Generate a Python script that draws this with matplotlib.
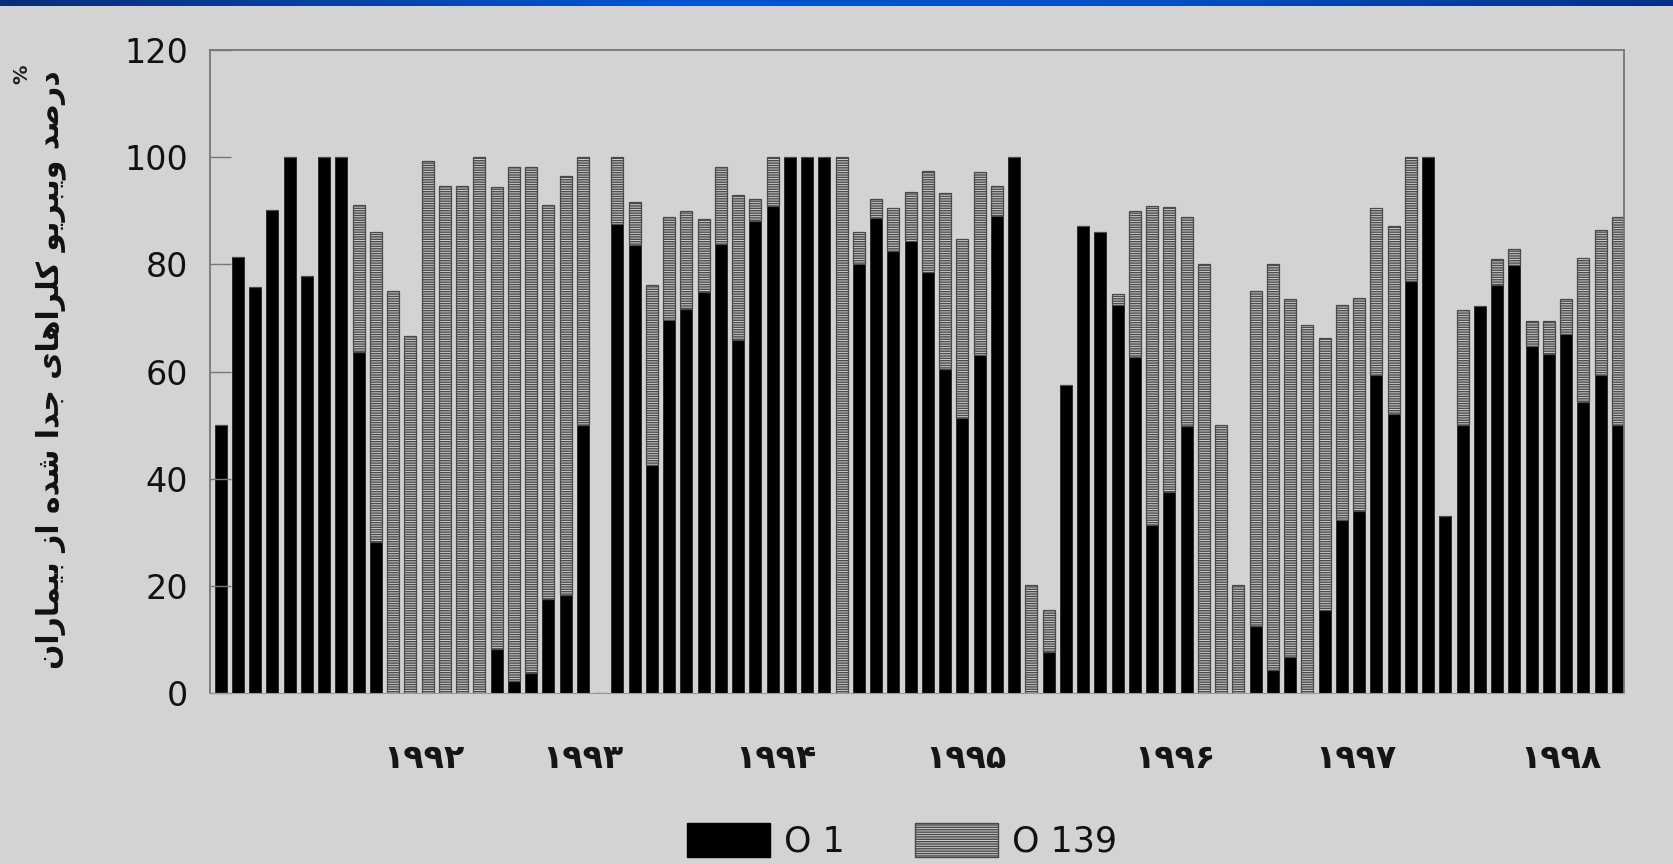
import numpy as np
import matplotlib
matplotlib.use("Agg")
import matplotlib.pyplot as plt
from matplotlib.colors import LinearSegmentedColormap
from matplotlib.patches import Patch

# monthly share of isolates; one empty slot after bar 22
o1 = [50, 81.4, 75.7, 90.1, 100, 77.8, 100, 100, 63.6, 28.2, 0, 0, 0, 0, 0, 0, 8.2, 2.2, 3.8, 17.5, 18.2, 50,
      0,
      87.6, 83.6, 42.6, 69.7, 71.7, 74.8, 83.8, 65.8, 88.1, 90.9, 100, 100, 100, 0, 80.0, 88.7, 82.4, 84.4,
      78.6, 60.5, 51.3, 63.0, 89.1, 100, 0, 7.7, 57.4, 87.1, 86.1, 72.5, 62.7, 31.4, 37.6, 49.9, 0, 0, 0,
      12.5, 4.2, 6.8, 0, 15.4, 32.3, 34.0, 59.3, 52.1, 76.8, 100, 33.1, 50.0, 72.3, 76.2, 79.8, 64.8, 63.2,
      67.0, 54.3, 59.3, 50.0]
total = [50, 81.4, 75.7, 90.1, 100, 77.8, 100, 100, 91.1, 86, 75.1, 66.7, 99.2, 94.6, 94.7, 100, 94.5, 98.1,
         98.1, 91.1, 96.5, 100,
         0,
         100, 91.7, 76.2, 88.8, 89.9, 88.5, 98.1, 93.0, 92.2, 100, 100, 100, 100, 100, 86.0, 92.1, 90.5, 93.5,
         97.4, 93.4, 84.8, 97.2, 94.7, 100, 20.1, 15.4, 57.4, 87.1, 86.1, 74.5, 89.9, 90.9, 90.7, 88.9, 80,
         50, 20.1, 75.1, 80, 73.6, 68.6, 66.2, 72.4, 73.7, 90.5, 87.1, 100, 100, 33.1, 71.5, 72.3, 81.0, 82.9,
         69.4, 69.4, 73.5, 81.2, 86.5, 88.9]
o139 = [t - a for t, a in zip(total, o1)]

years = ["۱۹۹۲", "۱۹۹۳", "۱۹۹۴", "۱۹۹۵", "۱۹۹۶", "۱۹۹۷", "۱۹۹۸"]
year_slot = [11.8, 21.0, 32.2, 43.2, 55.3, 65.8, 77.7]
yticks = [0, 20, 40, 60, 80, 100, 120]
ylabel_fa = "درصد ویبریو کلراهای جدا شده از بیماران"
legend_labels = ["O 1", "O 139"]

# minimal Persian shaping (matplotlib has no complex text layout)
FORMS = {
    "ا": ("\uFE8D", "\uFE8E", None, None), "ب": ("\uFE8F", "\uFE90", "\uFE91", "\uFE92"),
    "ج": ("\uFE9D", "\uFE9E", "\uFE9F", "\uFEA0"), "د": ("\uFEA9", "\uFEAA", None, None),
    "ر": ("\uFEAD", "\uFEAE", None, None), "ز": ("\uFEAF", "\uFEB0", None, None),
    "ش": ("\uFEB5", "\uFEB6", "\uFEB7", "\uFEB8"), "ص": ("\uFEB9", "\uFEBA", "\uFEBB", "\uFEBC"),
    "ل": ("\uFEDD", "\uFEDE", "\uFEDF", "\uFEE0"), "م": ("\uFEE1", "\uFEE2", "\uFEE3", "\uFEE4"),
    "ن": ("\uFEE5", "\uFEE6", "\uFEE7", "\uFEE8"), "ه": ("\uFEE9", "\uFEEA", "\uFEEB", "\uFEEC"),
    "و": ("\uFEED", "\uFEEE", None, None), "ی": ("\uFBFC", "\uFBFD", "\uFBFE", "\uFBFF"),
    "ک": ("\uFB8E", "\uFB8F", "\uFB90", "\uFB91"),
}
FORMS["ي"] = FORMS["ی"]; FORMS["ى"] = FORMS["ی"]; FORMS["ك"] = FORMS["ک"]


def shape_fa(s):
    dual = lambda c: c in FORMS and FORMS[c][2] is not None
    out = []
    for i, c in enumerate(s):
        if c not in FORMS:
            out.append(c); continue
        prev = s[i - 1] if i > 0 else " "
        nxt = s[i + 1] if i + 1 < len(s) else " "
        cp = dual(prev)
        cn = dual(c) and nxt in FORMS
        f = FORMS[c]
        out.append(f[3] if cp and cn else f[1] if cp else f[2] if cn else f[0])
    return "".join(out[::-1])


bg = "#d3d3d3"
fig = plt.figure(figsize=(16.74, 8.64), dpi=100, facecolor=bg)

# blue strip along the top edge
strip = fig.add_axes([0, 1 - 6 / 864, 1, 6 / 864])
cm = LinearSegmentedColormap.from_list("strip", [(0, "#0a2e78"), (0.4, "#0055d4"), (0.7, "#0050c4"), (1, "#00308a")])
strip.imshow(np.linspace(0, 1, 256)[None, :], aspect="auto", cmap=cm)
strip.axis("off")

ax = fig.add_axes([210 / 1674, 1 - 693 / 864, 1414 / 1674, 643 / 864])
ax.set_facecolor(bg)
x = np.arange(len(o1))
ax.bar(x, o1, width=0.7, color="black", edgecolor="#222222", linewidth=0.6)
ax.bar(x, o139, bottom=o1, width=0.7, color="#cdcdcd", edgecolor="#4a4a4a", linewidth=0.9, hatch="-------")

ax.set_xlim(-0.62, len(o1) - 1 + 0.35)
ax.set_ylim(0, 120)
ax.set_yticks(yticks)
ax.set_yticklabels([str(v) for v in yticks], fontsize=24, family="DejaVu Sans", color="#111111")
ax.tick_params(axis="y", direction="in", length=15, width=1, color="#777777", pad=16)
ax.set_xticks(year_slot)
ax.set_xticklabels(years, fontsize=24, fontweight="bold", family="DejaVu Sans", color="#151515")
ax.tick_params(axis="x", length=0, pad=35)
for s in ("top", "left", "right"):
    ax.spines[s].set_color("#777777"); ax.spines[s].set_linewidth(1.3)
ax.spines["bottom"].set_color("#9a9a9a"); ax.spines["bottom"].set_linewidth(0.8)

fig.text(51 / 1674, 1 - 370 / 864, shape_fa(ylabel_fa), rotation=90, ha="center", va="center",
         fontsize=21.5, fontweight="bold", family="DejaVu Sans", color="#111111")
fig.text(22 / 1674, 1 - 74 / 864, "%", rotation=90, ha="center", va="center", fontsize=14,
         fontweight="bold", color="#222222")

handles = [Patch(facecolor="black", edgecolor="black"),
           Patch(facecolor="#cdcdcd", edgecolor="#4a4a4a", hatch="-------")]
fig.legend(handles, legend_labels, loc="center", bbox_to_anchor=(902 / 1674, 23 / 864), ncol=2, frameon=False,
           prop={"family": "DejaVu Sans", "size": 25}, handlelength=2.4, handleheight=1.1,
           handletextpad=0.4, columnspacing=2.0, labelcolor="#111111")

fig.savefig("out.png", dpi=100, facecolor=bg)
